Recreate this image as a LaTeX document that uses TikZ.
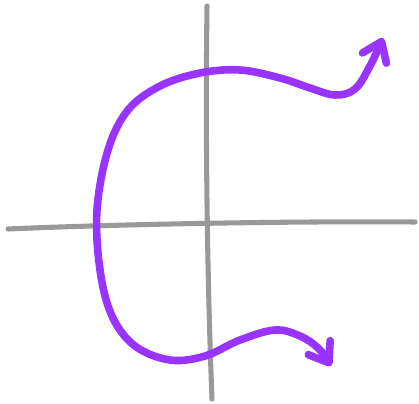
\documentclass[tikz,border=0pt]{standalone}
\usetikzlibrary{arrows.meta}
\definecolor{cpurple}{HTML}{9933FF}
\definecolor{cgrey}{HTML}{999999}
\tikzset{
  axis/.style={draw=cgrey, line width=3.6pt, line cap=round},
  sketch/.style={draw=cpurple, line width=5.4pt, line cap=round, line join=round},
  tip/.style={-{Straight Barb[round, length=4.5mm, width=6.5mm]}},
}
\begin{document}
\begin{tikzpicture}[x=0.25mm, y=-0.25mm]
  \useasboundingbox (0,0) rectangle (419,404);
  % axes
  \draw[axis] (8,229) .. controls (120,224) and (300,221) .. (415,222);
  \draw[axis] (207,6) .. controls (205,150) and (208,300) .. (212,399);
  % the purple stroke, bottom arrow to top arrow
  \draw[sketch, tip] plot[smooth, tension=0.6] coordinates {
    (328,362) (318,348) (300,336) (275,330) (240,340) (205,356) (170,360)
    (135,346) (112,316) (100,270) (97,210) (108,150) (128,110) (160,86)
    (200,73) (240,70) (280,78) (310,88) (335,95) (355,89) (370,66) (383,38)};
  \draw[sketch, tip] (322,352) -- (331,366);
\end{tikzpicture}
\end{document}
